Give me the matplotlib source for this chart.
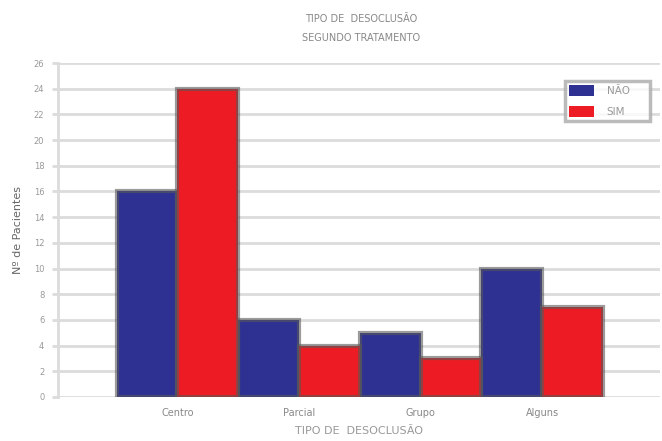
import numpy as np
import matplotlib.pyplot as plt

categorias = ['Centro', 'Parcial', 'Grupo', 'Alguns']
nao = [16, 6, 5, 10]
sim = [24, 4, 3, 7]
yticks = list(range(0, 28, 2))

fig = plt.figure(figsize=(6.62, 4.41), dpi=100)
ax = fig.add_axes([0.088, 0.10, 0.909, 0.757])

x = np.arange(len(categorias))
w = 0.5
edge = (0.35, 0.35, 0.35, 0.6)
ax.bar(x - w / 2, nao, w, color='#2e3192', edgecolor=edge, linewidth=3, label='NÃO', zorder=3)
ax.bar(x + w / 2, sim, w, color='#ed1c24', edgecolor=edge, linewidth=3, label='SIM', zorder=3)

ax.set_xlim(-0.98, 3.97)
ax.set_ylim(0, 26)
ax.set_yticks(yticks)
ax.set_yticklabels([str(v) for v in yticks], fontsize=6, color='#999999')
ax.set_xticks(x)
ax.set_xticklabels(categorias, fontsize=7, color='#888888')
ax.yaxis.grid(True, color='#dcdcdc', linewidth=2, zorder=0)
ax.tick_params(axis='y', length=4, width=2, color='#dcdcdc', pad=6)
ax.tick_params(axis='x', length=0, pad=8)
for s in ['top', 'right', 'bottom']:
    ax.spines[s].set_visible(False)
ax.spines['left'].set_color('#dcdcdc')
ax.spines['left'].set_linewidth(2)

ax.set_ylabel('Nº de Pacientes', fontsize=8, color='#666666', labelpad=8)
ax.set_xlabel('TIPO DE  DESOCLUSÃO', fontsize=8, color='#999999', labelpad=6)
fig.text(0.545, 0.958, 'TIPO DE  DESOCLUSÃO', ha='center', va='center', fontsize=7, color='#888888')
fig.text(0.545, 0.913, 'SEGUNDO TRATAMENTO', ha='center', va='center', fontsize=7, color='#888888')

# legenda com caixas grandes, largura fixa
leg = ax.legend(loc='upper left', bbox_to_anchor=(0.842, 0.946, 0.141, 0.0), mode='expand',
                fontsize=7.5, frameon=True, fancybox=False, handlelength=2.4, handleheight=1.25,
                labelspacing=0.95, handletextpad=1.2, borderpad=0.4,
                borderaxespad=0, labelcolor='#999999')
leg.get_frame().set_edgecolor('#aaaaaa')
leg.get_frame().set_linewidth(2.5)
for p in leg.get_patches():
    p.set_edgecolor('none')

fig.savefig('out.png', dpi=100)
